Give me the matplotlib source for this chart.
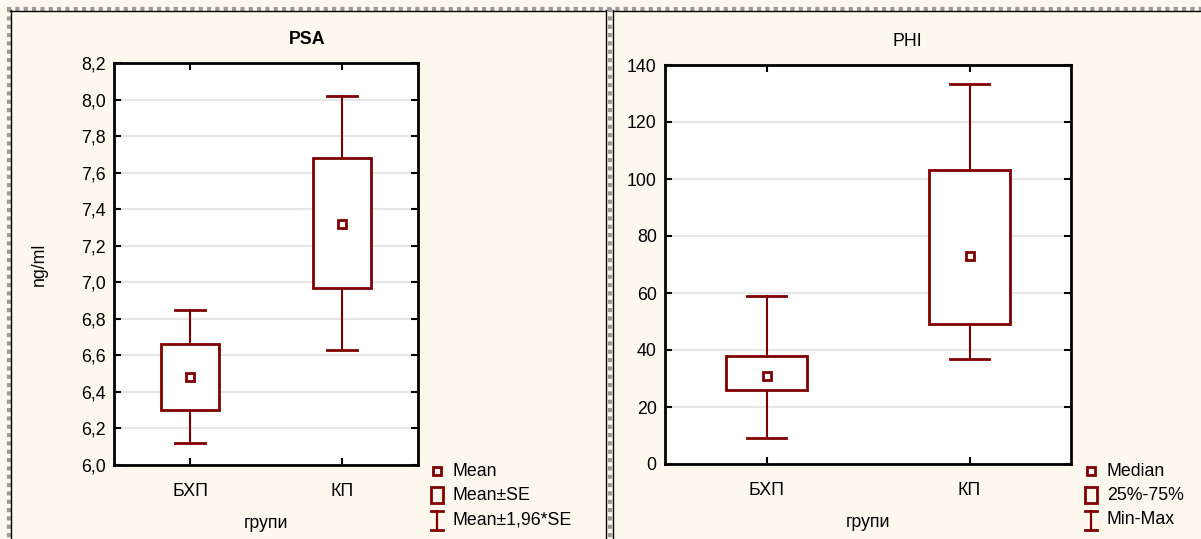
import matplotlib
matplotlib.use("Agg")
import matplotlib.pyplot as plt
from matplotlib.patches import Rectangle
from matplotlib.lines import Line2D

plt.rcParams['font.family'] = ['Liberation Sans', 'DejaVu Sans']

# ---- data ----
categories = ["БХП", "КП"]
psa_mean = [6.48, 7.32]
psa_se_low = [6.30, 6.97]
psa_se_high = [6.66, 7.68]
psa_ci_low = [6.12, 6.63]
psa_ci_high = [6.85, 8.02]

phi_median = [31, 73]
phi_q25 = [26, 49]
phi_q75 = [38, 103]
phi_min = [9, 37]
phi_max = [59, 133.5]

psa_yticks = [6.0, 6.2, 6.4, 6.6, 6.8, 7.0, 7.2, 7.4, 7.6, 7.8, 8.0, 8.2]
phi_yticks = [0, 20, 40, 60, 80, 100, 120, 140]

RED = "#800000"
BG = "#FDF8EE"
W, H = 1201, 539
FS = 12.8

fig = plt.figure(figsize=(W / 100, H / 100), dpi=100, facecolor=BG)


def fx(x):
    return x / W


def fy(y):
    return 1 - y / H


def make_axes(x0, y0, x1, y1):
    ax = fig.add_axes([fx(x0), fy(y1), fx(x1) - fx(x0), fy(y0) - fy(y1)])
    ax.set_facecolor("white")
    for s in ax.spines.values():
        s.set_linewidth(2)
        s.set_color("black")
    return ax


def draw_boxes(ax, center, low, high, wlow, whigh, bw, cw):
    for i in range(len(center)):
        ax.plot([i, i], [high[i], whigh[i]], color=RED, lw=1.5, zorder=3)
        ax.plot([i, i], [wlow[i], low[i]], color=RED, lw=1.5, zorder=3)
        ax.plot([i - cw / 2, i + cw / 2], [whigh[i]] * 2, color=RED, lw=2, zorder=3)
        ax.plot([i - cw / 2, i + cw / 2], [wlow[i]] * 2, color=RED, lw=2, zorder=3)
        ax.add_patch(Rectangle((i - bw / 2, low[i]), bw, high[i] - low[i],
                               facecolor="white", edgecolor=RED, lw=2, zorder=4))
        ax.plot([i], [center[i]], marker="s", ms=6, mfc="white", mec=RED, mew=2, zorder=5)


def fmt_comma(v):
    return f"{v:.1f}".replace(".", ",")


# ---- left panel: PSA ----
ax1 = make_axes(114, 63, 418, 465)
draw_boxes(ax1, psa_mean, psa_se_low, psa_se_high, psa_ci_low, psa_ci_high, 0.385, 0.2)
ax1.set_xlim(-0.5, 1.5)
ax1.set_ylim(6.0, 8.2)
ax1.set_yticks(psa_yticks)
ax1.set_yticklabels([fmt_comma(v) for v in psa_yticks])
ax1.set_xticks(range(len(categories)))
ax1.set_xticklabels(categories)
ax1.grid(axis="y", color="#e2e2e2", lw=1.2)
ax1.set_axisbelow(True)
ax1.tick_params(axis="both", labelsize=FS, direction="in", length=5, width=1.5,
                right=True, top=True, pad=6)
ax1.tick_params(axis="x", pad=13)
ax1.set_title("PSA", fontsize=FS, fontweight="bold", x=(307 - 114) / 304, pad=14)
ax1.set_xlabel("групи", fontsize=FS, labelpad=11)
ax1.set_ylabel("ng/ml", fontsize=FS, labelpad=24)

# ---- right panel: PHI ----
ax2 = make_axes(665, 65, 1071, 464)
draw_boxes(ax2, phi_median, phi_q25, phi_q75, phi_min, phi_max, 0.4, 0.19)
ax2.set_xlim(-0.5, 1.5)
ax2.set_ylim(0, 140)
ax2.set_yticks(phi_yticks)
ax2.set_xticks(range(len(categories)))
ax2.set_xticklabels(categories)
ax2.grid(axis="y", color="#e2e2e2", lw=1.2)
ax2.set_axisbelow(True)
ax2.tick_params(axis="both", labelsize=FS, direction="in", length=5, width=1.5,
                right=True, top=True, pad=6)
ax2.tick_params(axis="x", pad=13)
ax2.set_title("PHI", fontsize=FS, x=(907 - 665) / 406, pad=14)
ax2.set_xlabel("групи", fontsize=FS, labelpad=11)


# ---- legends (drawn manually) ----
def legend(x, labels):
    fig.add_artist(Line2D([fx(x)], [fy(471)], marker="s", ms=6, mfc="white", mec=RED,
                          mew=2, transform=fig.transFigure))
    fig.add_artist(Rectangle((fx(x - 6), fy(503)), fx(12), fy(487) - fy(503),
                             facecolor="none", edgecolor=RED, lw=2,
                             transform=fig.transFigure))
    fig.add_artist(Line2D([fx(x), fx(x)], [fy(511), fy(530)], color=RED, lw=1.6,
                          transform=fig.transFigure))
    for yy in (511, 530):
        fig.add_artist(Line2D([fx(x - 6), fx(x + 6)], [fy(yy), fy(yy)], color=RED, lw=2,
                              transform=fig.transFigure))
    for lab, yy in zip(labels, (471, 495, 520)):
        fig.text(fx(x + 16), fy(yy), lab, fontsize=FS, va="center", ha="left")


legend(437, ["Mean", "Mean±SE", "Mean±1,96*SE"])
legend(1091, ["Median", "25%-75%", "Min-Max"])


# ---- panel frames ----
def vline(x, y0, y1, **kw):
    fig.add_artist(Line2D([fx(x), fx(x)], [fy(y0), fy(y1)], transform=fig.transFigure, **kw))


def hline(y, x0, x1, **kw):
    fig.add_artist(Line2D([fx(x0), fx(x1)], [fy(y), fy(y)], transform=fig.transFigure, **kw))


gray = dict(color="#9a9a9a", lw=3, linestyle=(0, (1, 1)))
hline(8.5, 7, 1201, **gray)
vline(8.5, 8, 539, **gray)
vline(609.5, 8, 539, **gray)
blk = dict(color="black", lw=1)
hline(10.5, 10, 606, **blk)
vline(10.5, 10, 539, **blk)
vline(606, 10, 539, **blk)
hline(10.5, 613, 1201, **blk)
vline(613, 10, 539, **blk)

fig.savefig("out.png", dpi=100, facecolor=BG)
